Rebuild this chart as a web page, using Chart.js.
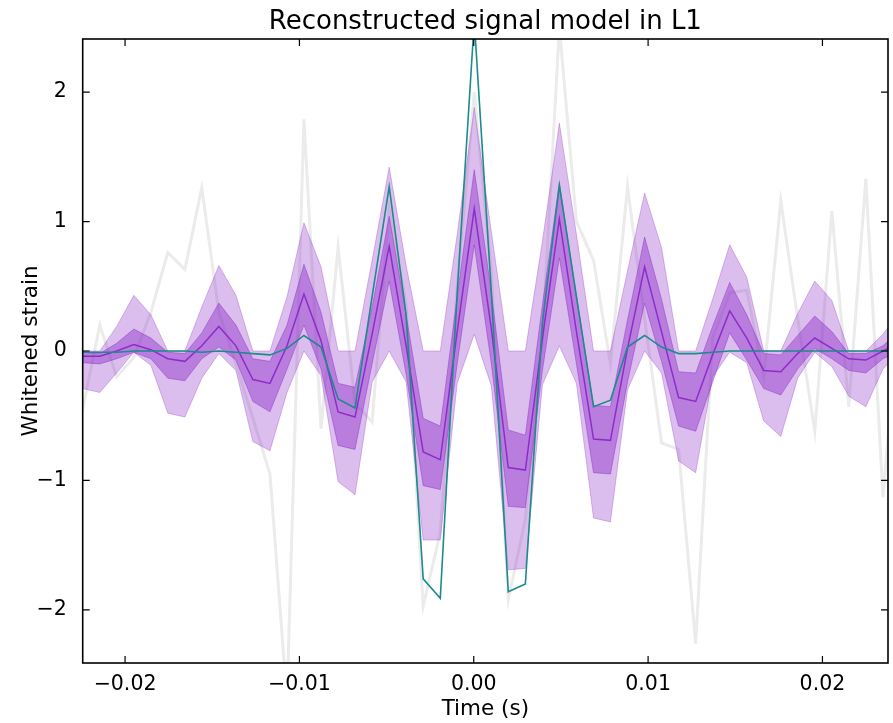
<!DOCTYPE html>
<html><head><meta charset="utf-8">
<script src="https://cdn.jsdelivr.net/npm/chart.js@4.4.1/dist/chart.umd.min.js"></script>
<style>html,body{margin:0;padding:0;background:#fff}#wrap{width:893px;height:723px;position:relative}</style>
</head><body><div id="wrap"><canvas id="c"></canvas></div>
<script>
// sample times (s)
const times = [-0.02341,-0.02243,-0.02145,-0.02048,-0.01950,-0.01852,-0.01755,-0.01657,-0.01560,-0.01462,
 -0.01364,-0.01267,-0.01169,-0.01071,-0.00974,-0.00876,-0.00778,-0.00681,-0.00583,-0.00485,
 -0.00388,-0.00290,-0.00192,-0.00095,0.00003,0.00101,0.00198,0.00296,0.00394,0.00491,
 0.00589,0.00687,0.00784,0.00882,0.00980,0.01077,0.01175,0.01273,0.01370,0.01468,
 0.01566,0.01663,0.01761,0.01858,0.01956,0.02054,0.02151,0.02249,0.02347,0.02444];
// whitened data (light grey)
const whitenedData = [-0.90,-0.45,0.20,-0.20,-0.05,0.30,0.76,0.63,1.26,0.30,
 -0.10,-0.52,-0.95,-2.70,1.79,-0.60,0.80,-0.40,-0.55,1.10,
 0.35,-1.97,-1.40,0.50,2.00,0.60,-1.92,-1.30,0.10,2.50,
 1.00,0.70,-0.10,1.27,0.25,-0.71,-0.76,-2.26,0.10,0.45,
 0.47,-0.20,1.16,0.25,-0.62,1.08,-0.43,1.33,-1.13,0.40];
// teal model curve
const modelCurve = [0.00,-0.01,-0.01,-0.01,0.00,0.00,0.00,0.00,-0.01,0.00,
 -0.01,-0.02,-0.03,0.02,0.12,0.03,-0.37,-0.44,0.42,1.27,
 0.28,-1.76,-1.91,0.45,2.55,0.45,-1.86,-1.80,0.22,1.28,
 0.42,-0.43,-0.38,0.03,0.12,0.03,-0.02,-0.02,-0.01,0.00,
 0,0,0,0,0,0,0,0,0,0];
// reconstruction median
const medianRec = [0.00,-0.04,-0.04,0.00,0.05,0.01,-0.06,-0.08,0.04,0.19,
 0.04,-0.22,-0.25,0.04,0.44,0.08,-0.47,-0.51,0.13,0.81,
 0.04,-0.78,-0.84,0.15,1.10,0.17,-0.90,-0.92,0.10,1.02,
 0.15,-0.68,-0.69,0.02,0.65,0.15,-0.36,-0.39,-0.03,0.31,
 0.10,-0.15,-0.16,-0.02,0.10,0.02,-0.06,-0.07,0.00,0.06];
// 50% band
const band50Lo = [-0.04,-0.09,-0.10,-0.06,-0.01,-0.06,-0.21,-0.23,-0.06,0.03,
 -0.07,-0.39,-0.47,-0.14,0.20,-0.14,-0.73,-0.76,-0.10,0.54,
 -0.18,-1.04,-1.07,-0.10,0.82,-0.10,-1.20,-1.21,-0.15,0.72,
 -0.10,-0.94,-0.95,-0.24,0.37,-0.08,-0.58,-0.62,-0.24,0.14,
 -0.07,-0.29,-0.34,-0.14,0.02,-0.06,-0.15,-0.17,-0.06,0.00];
const band50Hi = [0.03,-0.01,-0.02,0.06,0.17,0.10,-0.01,-0.02,0.14,0.37,
 0.20,-0.06,-0.08,0.20,0.67,0.30,-0.25,-0.28,0.34,1.04,
 0.28,-0.52,-0.58,0.42,1.40,0.45,-0.61,-0.65,0.36,1.30,
 0.42,-0.42,-0.43,0.24,0.88,0.40,-0.16,-0.17,0.19,0.53,
 0.28,-0.02,-0.03,0.12,0.27,0.15,-0.02,-0.02,0.04,0.16];
// 90% band
const band90Lo = [-0.12,-0.29,-0.32,-0.17,-0.01,-0.11,-0.48,-0.51,-0.21,-0.02,
 -0.15,-0.70,-0.77,-0.32,0.00,-0.19,-1.01,-1.11,-0.24,0.00,
 -0.24,-1.46,-1.46,-0.25,0.13,-0.27,-1.69,-1.68,-0.26,0.04,
 -0.25,-1.29,-1.32,-0.30,0.00,-0.17,-0.85,-0.94,-0.20,-0.01,
 -0.09,-0.54,-0.66,-0.21,-0.01,-0.12,-0.35,-0.43,-0.14,0.00];
const band90Hi = [0.08,0.00,0.00,0.19,0.43,0.28,0.00,0.00,0.34,0.66,
 0.43,0.00,0.00,0.42,0.99,0.65,0.00,0.00,0.70,1.42,
 0.66,0.00,0.00,0.90,1.88,0.92,0.00,0.00,0.85,1.76,
 0.90,0.00,0.00,0.62,1.22,0.80,0.00,0.00,0.40,0.82,
 0.57,0.00,0.00,0.29,0.54,0.39,0.00,0.00,0.13,0.30];

const xTickValues = [-0.02,-0.01,0,0.01,0.02];
const xTickLabels = ['\u22120.02','\u22120.01','0.00','0.01','0.02'];
const yTickValues = [-2,-1,0,1,2];
const yTickLabels = ['\u22122','\u22121','0','1','2'];
const titleText = 'Reconstructed signal model in L1';
const xLabel = 'Time (s)';
const yLabel = 'Whitened strain';

function pts(arr){ return times.map((t,i)=>({x:t,y:arr[i]})); }

const LIGHT = 'rgba(140,40,200,0.30)';
const DARK = 'rgba(140,40,200,0.43)';

const frame = {
  id:'frame',
  afterDraw(chart){
    const {ctx, chartArea:a, scales:{x,y}} = chart;
    ctx.save();
    ctx.strokeStyle='#000'; ctx.lineWidth=1.2;
    ctx.beginPath();
    const L=7;
    xTickValues.forEach(v=>{const p=x.getPixelForValue(v); ctx.moveTo(p,a.bottom); ctx.lineTo(p,a.bottom-L); ctx.moveTo(p,a.top); ctx.lineTo(p,a.top+L);});
    yTickValues.forEach(v=>{const p=y.getPixelForValue(v); ctx.moveTo(a.left,p); ctx.lineTo(a.left+L,p); ctx.moveTo(a.right,p); ctx.lineTo(a.right-L,p);});
    ctx.stroke();
    ctx.lineWidth=1.6;
    ctx.strokeRect(a.left,a.top,a.right-a.left,a.bottom-a.top);
    // axes title centred over the plot area
    ctx.fillStyle='#000';
    ctx.font='26px "DejaVu Sans"';
    ctx.textAlign='center'; ctx.textBaseline='middle';
    ctx.fillText(titleText,(a.left+a.right)/2,22);
    ctx.restore();
  }
};

Chart.defaults.font.family = 'DejaVu Sans';
Chart.defaults.color = '#000';

new Chart(document.getElementById('c'), {
  type:'line',
  data:{datasets:[
    {data:pts(band90Lo), borderColor:LIGHT, borderWidth:1, backgroundColor:LIGHT, fill:false, pointRadius:0, order:6},
    {data:pts(band90Hi), borderColor:LIGHT, borderWidth:1, backgroundColor:LIGHT, fill:'-1', pointRadius:0, order:5},
    {data:pts(band50Lo), borderColor:DARK, borderWidth:1, backgroundColor:DARK, fill:false, pointRadius:0, order:4},
    {data:pts(band50Hi), borderColor:DARK, borderWidth:1, backgroundColor:DARK, fill:'-1', pointRadius:0, order:3},
    {data:pts(medianRec), borderColor:'rgba(135,30,200,0.85)', borderWidth:1.5, fill:false, pointRadius:0, order:2},
    {data:pts(whitenedData), borderColor:'#ebebeb', borderWidth:3, fill:false, pointRadius:0, order:7},
    {data:pts(modelCurve), borderColor:'#1b8b8b', borderWidth:1.6, fill:false, pointRadius:0, order:0}
  ]},
  options:{
    responsive:true, maintainAspectRatio:false, animation:false,
    layout:{padding:{top:39,right:5,bottom:0,left:0}},
    plugins:{
      legend:{display:false}, tooltip:{enabled:false}, title:{display:false}
    },
    scales:{
      x:{type:'linear', min:-0.02243, max:0.02376,
        afterBuildTicks:s=>{s.ticks = xTickValues.map(v=>({value:v}));},
        afterFit:s=>{s.height=60;},
        grid:{display:false, drawTicks:false}, border:{display:false},
        ticks:{autoSkip:false, maxRotation:0, padding:9, font:{size:20.5}, callback:(v,i)=>xTickLabels[i]},
        title:{display:true, text:xLabel, font:{size:21.5}, padding:{top:0,bottom:1}}
      },
      y:{type:'linear', min:-2.41, max:2.41,
        afterBuildTicks:s=>{s.ticks = yTickValues.map(v=>({value:v}));},
        afterFit:s=>{s.width=82.7;},
        grid:{display:false, drawTicks:false}, border:{display:false},
        ticks:{autoSkip:false, padding:16, font:{size:20.5}, callback:(v,i)=>yTickLabels[i]},
        title:{display:true, text:yLabel, font:{size:21.5}, padding:{top:19,bottom:0}}
      }
    }
  },
  plugins:[frame]
});
</script></body></html>
